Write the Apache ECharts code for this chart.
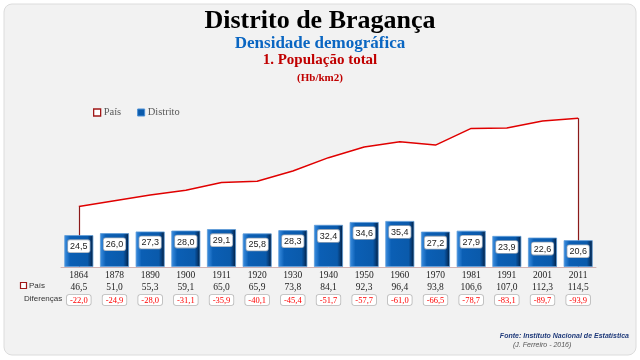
<!DOCTYPE html>
<html><head><meta charset="utf-8">
<script src="https://cdn.jsdelivr.net/npm/echarts@6/dist/echarts.min.js"></script>
<style>html,body{margin:0;padding:0;background:#fff}#c{width:640px;height:360px}</style>
</head><body><div id="c"></div>
<script>
const years = ['1864','1878','1890','1900','1911','1920','1930','1940','1950','1960','1970','1981','1991','2001','2011'];
const distrito = [24.5,26.0,27.3,28.0,29.1,25.8,28.3,32.4,34.6,35.4,27.2,27.9,23.9,22.6,20.6];
const pais = [46.5,51.0,55.3,59.1,65.0,65.9,73.8,84.1,92.3,96.4,93.8,106.6,107.0,112.3,114.5];
const diferencas = [-22.0,-24.9,-28.0,-31.1,-35.9,-40.1,-45.4,-51.7,-57.7,-61.0,-66.5,-78.7,-83.1,-89.7,-93.9];

const fmt = v => v.toFixed(1).replace('.', ',');
const serif = '"Liberation Serif", "DejaVu Serif", serif';
const sans = '"Liberation Sans", "DejaVu Sans", sans-serif';
const chart = echarts.init(document.getElementById('c'));
const last = years.length - 1;

chart.setOption({
  backgroundColor: '#ffffff',
  animation: false,
  graphic: [
    {type:'rect', z:-10, shape:{x:4,y:4,width:632,height:351,r:8}, style:{fill:'#f2f2f2', stroke:'#dcdcdc', lineWidth:1}},
    {type:'rect', z:1, shape:{x:20.5,y:282.5,width:6,height:6}, style:{fill:'#fff', stroke:'#a01818', lineWidth:1.2}},
    {type:'text', z:1, x:29, y:286, style:{text:'País', font:'8px '+sans, fill:'#333', verticalAlign:'middle'}},
    {type:'text', z:1, x:24, y:298.5, style:{text:'Diferenças', font:'8px '+sans, fill:'#333', verticalAlign:'middle'}},
    {type:'text', z:1, x:629, y:336, style:{text:'Fonte: Instituto Nacional de Estatística', font:'italic bold 7px '+sans, fill:'#1f3a7a', align:'right', verticalAlign:'middle'}},
    {type:'text', z:1, x:513, y:345, style:{text:'(J. Ferreiro - 2016)', font:'italic 7px '+sans, fill:'#555', align:'left', verticalAlign:'middle'}}
  ],
  title: [
    {text:'Distrito de Bragança', left:'center', top:3, textStyle:{fontFamily:serif, fontSize:26, fontWeight:'bold', color:'#000'}},
    {text:'Densidade demográfica', left:'center', top:30, textStyle:{fontFamily:serif, fontSize:17, fontWeight:'bold', color:'#0a66c2'}},
    {text:'1. População total', left:'center', top:48, textStyle:{fontFamily:serif, fontSize:15, fontWeight:'bold', color:'#c00000'}},
    {text:'(Hb/km2)', left:'center', top:68, textStyle:{fontFamily:serif, fontSize:11, fontWeight:'bold', color:'#c00000'}}
  ],
  legend: {
    left: 88, top: 102, itemWidth: 7, itemHeight: 7, itemGap: 16,
    textStyle:{fontFamily:serif, fontSize:10.5, color:'#595959', padding:[0,0,0,-2]},
    data: [
      {name:'País', icon:'rect', itemStyle:{color:'#ffffff', borderColor:'#a01818', borderWidth:1.3}},
      {name:'Distrito', icon:'rect', itemStyle:{color:'#0a5aab', borderColor:'#4a8fd6', borderWidth:1}}
    ]
  },
  grid: {left:61, width:535, top:72, height:195},
  xAxis: [
    {type:'category', data:years, axisLine:{show:true, lineStyle:{color:'#d4b4b4', width:1}}, axisTick:{show:false},
     axisLabel:{fontFamily:serif, fontSize:9.5, color:'#222', margin:3}},
    {type:'category', data:pais.map(fmt), position:'bottom', offset:12, axisLine:{show:false}, axisTick:{show:false},
     axisLabel:{fontFamily:serif, fontSize:9.5, color:'#222', margin:3}},
    {type:'category', data:diferencas.map(fmt), position:'bottom', offset:24, axisLine:{show:false}, axisTick:{show:false},
     axisLabel:{fontFamily:serif, fontSize:8.5, color:'#ff0000', margin:4, backgroundColor:'#fff', borderColor:'#b8b8b8', borderWidth:0.8, borderRadius:2, padding:[1,3,0,3]}}
  ],
  yAxis: {type:'value', min:0, max:150, show:false},
  series: [
    {name:'País', type:'line', data:pais, symbol:'none', z:1,
     lineStyle:{color:'#e00000', width:1.5}, areaStyle:{color:'#ffffff', opacity:1},
     markLine:{silent:true, z:2, symbol:'none', label:{show:false}, lineStyle:{color:'#8b1a1a', width:1.2, type:'solid'},
       data:[[{coord:[years[0],0]},{coord:[years[0],pais[0]]}],[{coord:[years[last],0]},{coord:[years[last],pais[last]]}]]}},
    {name:'Distrito', type:'bar', data:distrito, barWidth:29, z:3,
     itemStyle:{
       color:new echarts.graphic.LinearGradient(0,0,1,0,[
         {offset:0,color:'#3d8fe0'},{offset:0.12,color:'#1f73c8'},{offset:0.2,color:'#0b5fb5'},
         {offset:0.8,color:'#0a5aab'},{offset:0.9,color:'#063c78'},{offset:1,color:'#001a36'}]),
       borderColor:'#5c9ad8', borderWidth:0.8},
     label:{show:true, position:'insideTop', distance:5, formatter:p=>fmt(p.value),
       fontFamily:sans, fontSize:9, color:'#222', backgroundColor:'#ffffff', borderColor:'#9aa8b8', borderWidth:0.8,
       borderRadius:2, padding:[2,2,1,2]}}
  ]
});
</script></body></html>
